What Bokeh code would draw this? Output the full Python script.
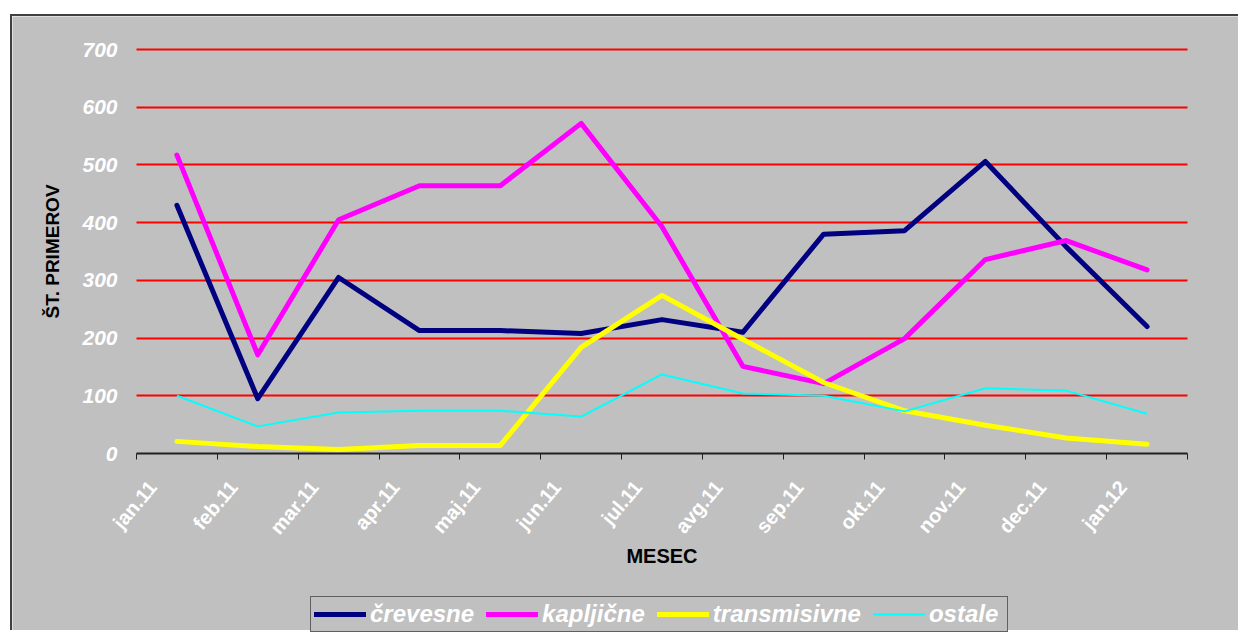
from bokeh.plotting import figure
from bokeh.models import Range1d, FixedTicker, Legend, LegendItem
from bokeh.embed import file_html
from bokeh.resources import INLINE

# ---- data ----
months = ["jan.11", "feb.11", "mar.11", "apr.11", "maj.11", "jun.11", "jul.11",
          "avg.11", "sep.11", "okt.11", "nov.11", "dec.11", "jan.12"]
crevesne = [430, 95, 305, 213, 213, 208, 232, 210, 380, 386, 506, 358, 220]
kapljicne = [517, 171, 405, 464, 464, 572, 393, 151, 121, 199, 336, 369, 318]
transmisivne = [21, 12, 7, 14, 14, 184, 274, 198, 123, 74, 49, 27, 16]
ostale = [100, 47, 71, 74, 74, 64, 137, 104, 100, 73, 113, 109, 69]
series_names = ["črevesne", "kapljične", "transmisivne", "ostale"]
y_ticks = [0, 100, 200, 300, 400, 500, 600, 700]

BG = "#C0C0C0"
FONT = "Liberation Sans"

n = len(months)
xs = [i + 0.5 for i in range(n)]          # category centres
label_pos = [i + 0.2 for i in range(n)]   # rotated label anchors
bounds = list(range(n + 1))               # category boundaries (tick marks)

# Canvas 1228x616; plot area (0..13, 0..700) occupies px 124..1175 x 33..437
W, H = 1228, 616
PL, PR, PT, PB = 124, 1175, 33, 437
ppx = (PR - PL) / n
ppy = (PB - PT) / 700
x_lo, x_hi = -PL / ppx, n + (W - PR) / ppx
y_lo, y_hi = -(H - PB) / ppy, 700 + PT / ppy

p = figure(width=W, height=H, output_backend="svg", toolbar_location=None,
           x_range=Range1d(x_lo, x_hi), y_range=Range1d(y_lo, y_hi),
           background_fill_color=BG, border_fill_color=BG,
           min_border_left=0, min_border_right=0,
           min_border_top=0, min_border_bottom=0,
           margin=(14, 0, 0, 10))
p.styles = {"border-left": "2px solid #404040", "border-top": "2px solid #404040"}
p.outline_line_color = None

# grid
p.xgrid.grid_line_color = None
p.ygrid.ticker = FixedTicker(ticks=y_ticks[1:])
p.ygrid.grid_line_color = "#FF0000"
p.ygrid.grid_line_width = 2
p.ygrid.cross_bounds = (0, n)

# y axis (fixed at x = 0)
yax = p.yaxis[0]
yax.fixed_location = 0
yax.bounds = (0, 700)
yax.ticker = FixedTicker(ticks=y_ticks)
yax.axis_line_color = None
yax.major_tick_line_color = None
yax.minor_tick_line_color = None
yax.major_tick_out = 0
yax.major_tick_in = 0
yax.major_label_standoff = 19
yax.major_label_text_color = "white"
yax.major_label_text_font = FONT
yax.major_label_text_font_style = "bold italic"
yax.major_label_text_font_size = "21px"
yax.axis_label = "ŠT. PRIMEROV"
yax.axis_label_text_font = FONT
yax.axis_label_text_font_style = "bold"
yax.axis_label_text_font_size = "19px"
yax.axis_label_text_color = "black"
yax.axis_label_standoff = 16

# x axis (fixed at y = 0)
xax = p.xaxis[0]
xax.fixed_location = 0
xax.bounds = (0, n)
xax.ticker = FixedTicker(ticks=label_pos, minor_ticks=bounds)
xax.major_label_overrides = {lp: m for lp, m in zip(label_pos, months)}
xax.major_tick_line_color = None
xax.major_tick_out = 0
xax.major_tick_in = 0
xax.minor_tick_line_color = "#202020"
xax.minor_tick_line_width = 1
xax.minor_tick_out = 6
xax.minor_tick_in = 0
xax.axis_line_color = "#202020"
xax.axis_line_width = 2
xax.major_label_orientation = 0.87
xax.major_label_standoff = 24
xax.major_label_text_color = "white"
xax.major_label_text_font = FONT
xax.major_label_text_font_style = "bold"
xax.major_label_text_font_size = "20px"
xax.axis_label = "MESEC"
xax.axis_label_text_font = FONT
xax.axis_label_text_font_style = "bold"
xax.axis_label_text_font_size = "20px"
xax.axis_label_text_color = "black"
xax.axis_label_standoff = -3

# lines
r1 = p.line(xs, crevesne, line_color="#000080", line_width=5, line_cap="round", line_join="round")
r2 = p.line(xs, kapljicne, line_color="#FF00FF", line_width=5, line_cap="round", line_join="round")
r3 = p.line(xs, transmisivne, line_color="#FFFF00", line_width=5, line_cap="round", line_join="round")
r4 = p.line(xs, ostale, line_color="#00FFFF", line_width=2)

legend = Legend(items=[LegendItem(label=nm, renderers=[r]) for nm, r in
                       zip(series_names, [r1, r2, r3, r4])],
                orientation="horizontal", location=(298, 0))
legend.background_fill_color = BG
legend.background_fill_alpha = 1
legend.border_line_color = "black"
legend.border_line_width = 1
legend.padding = 3
legend.margin = 0
legend.spacing = 12
legend.glyph_width = 52
legend.label_standoff = 4
legend.label_width = 75
legend.label_text_color = "white"
legend.label_text_font = FONT
legend.label_text_font_style = "bold italic"
legend.label_text_font_size = "24px"
p.add_layout(legend, "center")

open("out.html", "w").write(file_html(p, INLINE))
